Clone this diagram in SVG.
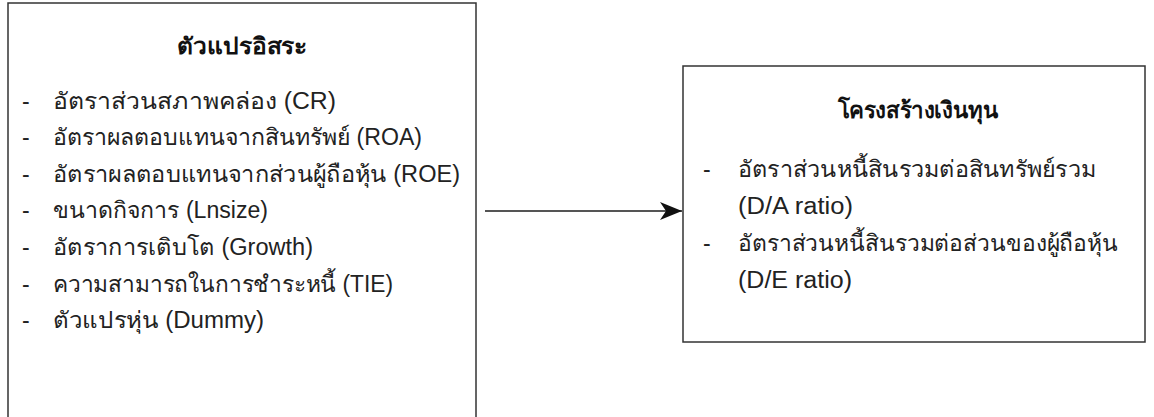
<svg xmlns="http://www.w3.org/2000/svg" width="1154" height="417" viewBox="0 0 1154 417">
<style>
.box{fill:#fff;stroke:#333;stroke-width:1.5}
.t{font-family:"Liberation Sans","Noto Sans",sans-serif;font-size:23px;fill:#222}
.h{font-family:"Liberation Sans","Noto Sans",sans-serif;font-size:23px;font-weight:bold;fill:#111;text-anchor:middle}
.c{stroke:#555;stroke-width:2;fill:none}
</style>
<defs>
<marker id="ah" markerWidth="24" markerHeight="18" refX="22" refY="9" orient="auto" markerUnits="userSpaceOnUse">
<path d="M0,0 L22,9 L0,18 L6,9 Z" fill="#111"/>
</marker>
</defs>
<rect width="1154" height="417" fill="#fff"/>
<g id="independent">
<rect class="box" x="8" y="3" width="468" height="420"/>
<text class="h" x="242" y="54" textLength="130" lengthAdjust="spacingAndGlyphs">ตัวแปรอิสระ</text>
<text class="t" x="22" y="109">-</text><text class="t" x="53" y="109" textLength="283" lengthAdjust="spacingAndGlyphs">อัตราส่วนสภาพคล่อง (CR)</text>
<text class="t" x="22" y="145">-</text><text class="t" x="53" y="145" textLength="369" lengthAdjust="spacingAndGlyphs">อัตราผลตอบแทนจากสินทรัพย์ (ROA)</text>
<text class="t" x="22" y="182">-</text><text class="t" x="53" y="182" textLength="407" lengthAdjust="spacingAndGlyphs">อัตราผลตอบแทนจากส่วนผู้ถือหุ้น (ROE)</text>
<text class="t" x="22" y="218">-</text><text class="t" x="53" y="218" textLength="215" lengthAdjust="spacingAndGlyphs">ขนาดกิจการ (Lnsize)</text>
<text class="t" x="22" y="255">-</text><text class="t" x="53" y="255" textLength="260" lengthAdjust="spacingAndGlyphs">อัตราการเติบโต (Growth)</text>
<text class="t" x="22" y="292">-</text><text class="t" x="53" y="292" textLength="340" lengthAdjust="spacingAndGlyphs">ความสามารถในการชำระหนี้ (TIE)</text>
<text class="t" x="22" y="328">-</text><text class="t" x="53" y="328" textLength="211" lengthAdjust="spacingAndGlyphs">ตัวแปรหุ่น (Dummy)</text>
</g>
<g id="dependent">
<rect class="box" x="683" y="66" width="462" height="276"/>
<text class="h" x="918" y="118" textLength="161" lengthAdjust="spacingAndGlyphs">โครงสร้างเงินทุน</text>
<text class="t" x="703" y="177">-</text><text class="t" x="738" y="177" textLength="358" lengthAdjust="spacingAndGlyphs">อัตราส่วนหนี้สินรวมต่อสินทรัพย์รวม</text>
<text class="t" x="738" y="214" textLength="115" lengthAdjust="spacingAndGlyphs">(D/A ratio)</text>
<text class="t" x="703" y="251">-</text><text class="t" x="738" y="251" textLength="380" lengthAdjust="spacingAndGlyphs">อัตราส่วนหนี้สินรวมต่อส่วนของผู้ถือหุ้น</text>
<text class="t" x="738" y="288" textLength="114" lengthAdjust="spacingAndGlyphs">(D/E ratio)</text>
</g>
<g id="connectors">
<line class="c" x1="485" y1="211" x2="682" y2="211" marker-end="url(#ah)"/>
</g>
</svg>
